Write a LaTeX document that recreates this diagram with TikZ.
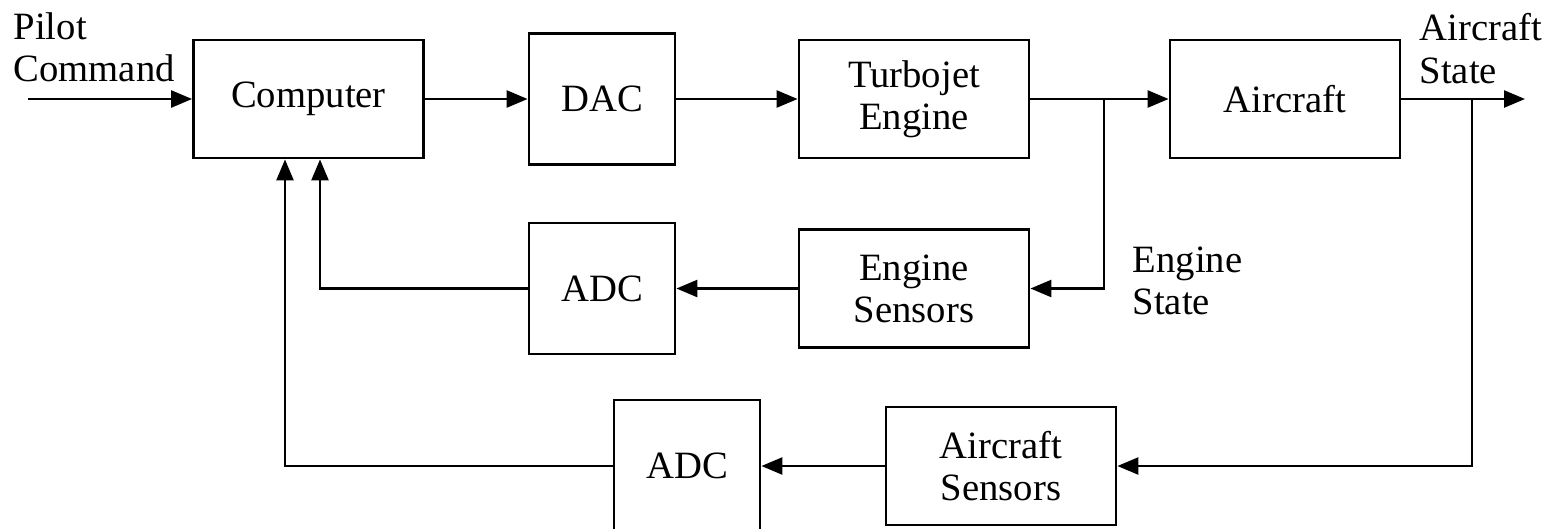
\documentclass[tikz,border=0pt]{standalone}
\usepackage{fontspec}
\setmainfont{Liberation Serif}
\usetikzlibrary{arrows.meta, positioning, calc}

\begin{document}
\begin{tikzpicture}[
  blk/.style={draw, line width=0.8pt, minimum width=2.3cm, minimum height=1.18cm, align=center, inner sep=2pt, font=\fontsize{11}{12}\selectfont},
  sqblk/.style={blk, minimum width=1.46cm, minimum height=1.31cm},
  lbl/.style={align=left, inner sep=0pt, anchor=north west, font=\fontsize{11}{12}\selectfont},
  sig/.style={line width=0.7pt, -{Triangle[length=2.1mm, width=1.7mm]}}
]
  \useasboundingbox (0,0) rectangle (15.45,-5.28);

  \node[blk] (computer) at (3.085,-0.99) {Computer};
  \node[sqblk] (dac) at (6.02,-0.99) {DAC};
  \node[blk] (turbojet) at (9.14,-0.99) {Turbojet\\Engine};
  \node[blk] (aircraft) at (12.85,-0.99) {Aircraft};
  \node[sqblk] (adcengine) at (6.02,-2.885) {ADC};
  \node[blk] (engsensors) at (9.14,-2.885) {Engine\\Sensors};
  \node[sqblk, minimum height=1.32cm] (adcair) at (6.87,-4.66) {ADC};
  \node[blk] (airsensors) at (10.01,-4.66) {Aircraft\\Sensors};

  \node[lbl] (pilotlbl) at (0.13,-0.12) {Pilot\\Command};
  \node[lbl] (statelbl) at (14.19,-0.13) {Aircraft\\State};
  \node[lbl] (englbl) at (11.32,-2.46) {Engine\\State};

  \coordinate (pilotin) at (0.28,-0.99);
  \coordinate (stateout) at (15.25,-0.99);
  \coordinate (tapengine) at (11.04,-0.99);
  \coordinate (tapair) at (14.72,-0.99);
  \coordinate (fbengine) at (3.20,-2.885);
  \coordinate (fbair) at (2.85,-4.66);

  \draw[sig] (pilotin) -- (computer);
  \draw[sig] (computer) -- (dac);
  \draw[sig] (dac) -- (turbojet);
  \draw[sig] (turbojet) -- (aircraft);
  \draw[sig] (aircraft) -- (stateout);
  \draw[sig] (tapengine) |- (engsensors);
  \draw[sig] (engsensors) -- (adcengine);
  \draw[sig] (adcengine) -- (fbengine) -- (fbengine |- computer.south);
  \draw[sig] (tapair) |- (airsensors);
  \draw[sig] (airsensors) -- (adcair);
  \draw[sig] (adcair) -- (fbair) -- (fbair |- computer.south);
\end{tikzpicture}
\end{document}
